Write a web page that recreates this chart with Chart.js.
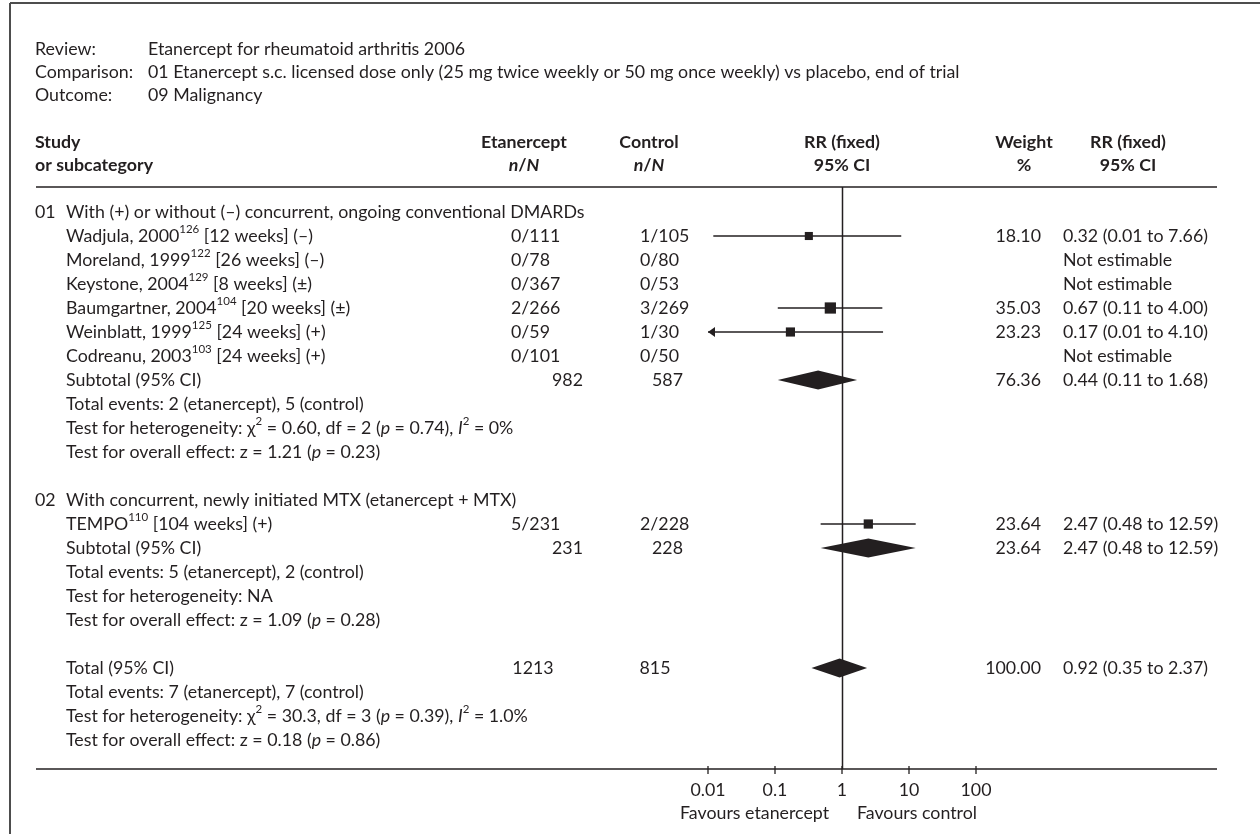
<!DOCTYPE html>
<html>
<head>
<meta charset="utf-8">
<script src="https://cdn.jsdelivr.net/npm/chart.js@4.4.1/dist/chart.umd.min.js"></script>
<style>
  html, body { margin: 0; padding: 0; background: #fff; }
  canvas { display: block; }
</style>
</head>
<body>
<canvas id="forestChart" width="1260" height="834"></canvas>
<script>
// --- data ---
var studyNames = ['Wadjula, 2000', 'Moreland, 1999', 'Keystone, 2004', 'Baumgartner, 2004', 'Weinblatt, 1999', 'Codreanu, 2003', 'TEMPO'];
var studyRefs = ['126', '122', '129', '104', '125', '103', '110'];
var studyNotes = [' [12 weeks] (\u2013)', ' [26 weeks] (\u2013)', ' [8 weeks] (\u00b1)', ' [20 weeks] (\u00b1)', ' [24 weeks] (+)', ' [24 weeks] (+)', ' [104 weeks] (+)'];
var studyGroup = [0, 0, 0, 0, 0, 0, 1];
var etanerceptNN = ['0/111', '0/78', '0/367', '2/266', '0/59', '0/101', '5/231'];
var controlNN = ['1/105', '0/80', '0/53', '3/269', '1/30', '0/50', '2/228'];
var studyWeight = [18.10, null, null, 35.03, 23.23, null, 23.64];
var studyRR = [0.32, null, null, 0.67, 0.17, null, 2.47];
var studyLow = [0.012, null, null, 0.11, 0.007, null, 0.48];
var studyHigh = [7.66, null, null, 4.00, 4.10, null, 12.59];

var groupCodes = ['01', '02'];
var groupTitles = ['With (+) or without (\u2013) concurrent, ongoing conventional DMARDs', 'With concurrent, newly initiated MTX (etanercept + MTX)'];
var subEtanercept = [982, 231];
var subControl = [587, 228];
var subWeight = [76.36, 23.64];
var subRR = [0.44, 2.47];
var subLow = [0.11, 0.48];
var subHigh = [1.68, 12.59];
var subEventsEtan = [2, 5];
var subEventsCtrl = [5, 2];
var subChi = ['0.60', null];
var subDf = [2, null];
var subHetP = ['0.74', null];
var subI2 = ['0%', null];
var subZ = ['1.21', '1.09'];
var subZp = ['0.23', '0.28'];

var totalEtanercept = 1213;
var totalControl = 815;
var totalWeight = 100.00;
var totalRR = 0.92, totalLow = 0.35, totalHigh = 2.37;
var totalEventsEtan = 7, totalEventsCtrl = 7;
var totalChi = '30.3', totalDf = 3, totalHetP = '0.39', totalI2 = '1.0%';
var totalZ = '0.18', totalZp = '0.86';

var xTicks = [0.01, 0.1, 1, 10, 100];
var xTickLabels = ['0.01', '0.1', '1', '10', '100'];

// --- layout ---
var INK = '#231f20';
var FONT = 'Lato, "Noto Sans", sans-serif';
var SIZE = 17.8;
var HEAD_RULE = 187;

// build the row list (row units, one unit per text line)
var rows = [];
var r = 0;
groupCodes.forEach(function (code, g) {
  rows.push({ r: r++, type: 'group', g: g });
  studyNames.forEach(function (n, i) {
    if (studyGroup[i] === g) rows.push({ r: r++, type: 'study', i: i });
  });
  rows.push({ r: r++, type: 'subtotal', g: g });
  rows.push({ r: r++, type: 'events', a: subEventsEtan[g], b: subEventsCtrl[g] });
  rows.push({ r: r++, type: 'het', chi: subChi[g], df: subDf[g], p: subHetP[g], i2: subI2[g] });
  rows.push({ r: r++, type: 'overall', z: subZ[g], p: subZp[g] });
  r++;
});
rows.push({ r: r++, type: 'total' });
rows.push({ r: r++, type: 'events', a: totalEventsEtan, b: totalEventsCtrl });
rows.push({ r: r++, type: 'het', chi: totalChi, df: totalDf, p: totalHetP, i2: totalI2 });
rows.push({ r: r++, type: 'overall', z: totalZ, p: totalZp });

function rowOf(type, key, val) {
  return rows.find(function (o) { return o.type === type && o[key] === val; }).r;
}

function fontFor(style) {
  if (style === 'b') return 'bold ' + SIZE + 'px ' + FONT;
  if (style === 'bi') return 'italic bold ' + SIZE + 'px ' + FONT;
  if (style === 'i') return 'italic ' + SIZE + 'px ' + FONT;
  if (style === 'sup') return '11.5px ' + FONT;
  return SIZE + 'px ' + FONT;
}

// segs: [[text, style], ...]
function drawRich(ctx, segs, x, y, align) {
  var w = 0;
  segs.forEach(function (s) { ctx.font = fontFor(s[1]); w += ctx.measureText(s[0]).width; });
  var cx = align === 'right' ? x - w : align === 'center' ? x - w / 2 : x;
  ctx.textAlign = 'left';
  ctx.textBaseline = 'middle';
  segs.forEach(function (s) {
    ctx.font = fontFor(s[1]);
    ctx.fillText(s[0], cx, s[1] === 'sup' ? y - 7 : y);
    cx += ctx.measureText(s[0]).width;
  });
}

function text(ctx, t, x, y, align, style) {
  drawRich(ctx, [[t, style || '']], x, y, align);
}

function line(ctx, x1, y1, x2, y2) {
  ctx.beginPath();
  ctx.moveTo(x1, y1);
  ctx.lineTo(x2, y2);
  ctx.stroke();
}

function ciText(v, lo, hi) {
  return v.toFixed(2) + ' (' + lo.toFixed(2) + ' to ' + hi.toFixed(2) + ')';
}

var forestPlugin = {
  id: 'forest',
  beforeDatasetsDraw: function (chart) {
    var ctx = chart.ctx, x = chart.scales.x, y = chart.scales.y;
    var area = chart.chartArea;
    ctx.save();
    ctx.strokeStyle = INK;
    ctx.fillStyle = INK;

    // line of no effect
    ctx.lineWidth = 1.5;
    var x1v = Math.round(x.getPixelForValue(1)) + 0.5;
    line(ctx, x1v, HEAD_RULE, x1v, area.bottom);

    // confidence intervals
    ctx.lineWidth = 1.3;
    studyRR.forEach(function (v, i) {
      if (v === null) return;
      var py = y.getPixelForValue(rowOf('study', 'i', i));
      var left = x.getPixelForValue(Math.max(studyLow[i], x.min));
      var right = x.getPixelForValue(Math.min(studyHigh[i], x.max));
      line(ctx, left, py, right, py);
      if (studyLow[i] < x.min) {
        ctx.beginPath();
        ctx.moveTo(left, py);
        ctx.lineTo(left + 7, py - 5);
        ctx.lineTo(left + 7, py + 5);
        ctx.closePath();
        ctx.fill();
      }
    });

    // pooled diamonds
    function diamond(v, lo, hi, row) {
      var py = y.getPixelForValue(row);
      ctx.beginPath();
      ctx.moveTo(x.getPixelForValue(lo), py);
      ctx.lineTo(x.getPixelForValue(v), py - 9.5);
      ctx.lineTo(x.getPixelForValue(hi), py);
      ctx.lineTo(x.getPixelForValue(v), py + 9.5);
      ctx.closePath();
      ctx.fill();
    }
    subRR.forEach(function (v, g) { diamond(v, subLow[g], subHigh[g], rowOf('subtotal', 'g', g)); });
    diamond(totalRR, totalLow, totalHigh, rowOf('total', 'type', 'total'));
    ctx.restore();
  },
  afterDraw: function (chart) {
    var ctx = chart.ctx, x = chart.scales.x, y = chart.scales.y;
    var area = chart.chartArea;
    ctx.save();
    ctx.fillStyle = INK;

    // frame
    ctx.strokeStyle = '#4d4d4d';
    ctx.lineWidth = 2;
    line(ctx, 10, 3, 1260, 3);
    line(ctx, 10, 3, 10, 834);

    // review info
    ctx.strokeStyle = INK;
    text(ctx, 'Review:', 35, 49);
    text(ctx, 'Etanercept for rheumatoid arthritis 2006', 148, 49);
    text(ctx, 'Comparison:', 35, 72);
    text(ctx, '01 Etanercept s.c. licensed dose only (25 mg twice weekly or 50 mg once weekly) vs placebo, end of trial', 148, 72);
    text(ctx, 'Outcome:', 35, 95);
    text(ctx, '09 Malignancy', 148, 95);

    // column headers
    var h1 = 142, h2 = 165;
    text(ctx, 'Study', 35, h1, 'left', 'b');
    text(ctx, 'or subcategory', 35, h2, 'left', 'b');
    text(ctx, 'Etanercept', 524, h1, 'center', 'b');
    drawRich(ctx, [['n', 'bi'], ['/', 'b'], ['N', 'bi']], 524, h2, 'center');
    text(ctx, 'Control', 649, h1, 'center', 'b');
    drawRich(ctx, [['n', 'bi'], ['/', 'b'], ['N', 'bi']], 649, h2, 'center');
    var xOne = x.getPixelForValue(1);
    text(ctx, 'RR (fixed)', xOne, h1, 'center', 'b');
    text(ctx, '95% CI', xOne, h2, 'center', 'b');
    text(ctx, 'Weight', 1024, h1, 'center', 'b');
    text(ctx, '%', 1024, h2, 'center', 'b');
    text(ctx, 'RR (fixed)', 1128, h1, 'center', 'b');
    text(ctx, '95% CI', 1128, h2, 'center', 'b');

    ctx.lineWidth = 1.5;
    line(ctx, 36, HEAD_RULE, 1217, HEAD_RULE);

    // body rows
    rows.forEach(function (o) {
      var py = y.getPixelForValue(o.r);
      if (o.type === 'group') {
        text(ctx, groupCodes[o.g], 35, py);
        text(ctx, groupTitles[o.g], 66, py);
      } else if (o.type === 'study') {
        var i = o.i;
        drawRich(ctx, [[studyNames[i]], [studyRefs[i], 'sup'], [studyNotes[i]]], 66, py, 'left');
        text(ctx, etanerceptNN[i], 511, py);
        text(ctx, controlNN[i], 640, py);
        if (studyRR[i] === null) {
          text(ctx, 'Not estimable', 1063, py);
        } else {
          text(ctx, studyWeight[i].toFixed(2), 1041, py, 'right');
          text(ctx, ciText(studyRR[i], studyLow[i], studyHigh[i]), 1063, py);
        }
      } else if (o.type === 'subtotal') {
        text(ctx, 'Subtotal (95% CI)', 66, py);
        text(ctx, String(subEtanercept[o.g]), 583, py, 'right');
        text(ctx, String(subControl[o.g]), 683, py, 'right');
        text(ctx, subWeight[o.g].toFixed(2), 1041, py, 'right');
        text(ctx, ciText(subRR[o.g], subLow[o.g], subHigh[o.g]), 1063, py);
      } else if (o.type === 'events') {
        text(ctx, 'Total events: ' + o.a + ' (etanercept), ' + o.b + ' (control)', 66, py);
      } else if (o.type === 'het') {
        if (o.chi === null) {
          text(ctx, 'Test for heterogeneity: NA', 66, py);
        } else {
          drawRich(ctx, [['Test for heterogeneity: \u03c7'], ['2', 'sup'], [' = ' + o.chi + ', df = ' + o.df + ' ('],
            ['p', 'i'], [' = ' + o.p + '), '], ['I', 'i'], ['2', 'sup'], [' = ' + o.i2]], 66, py, 'left');
        }
      } else if (o.type === 'overall') {
        drawRich(ctx, [['Test for overall effect: z = ' + o.z + ' ('], ['p', 'i'], [' = ' + o.p + ')']], 66, py, 'left');
      } else if (o.type === 'total') {
        text(ctx, 'Total (95% CI)', 66, py);
        text(ctx, String(totalEtanercept), 533, py, 'center');
        text(ctx, String(totalControl), 655, py, 'center');
        text(ctx, totalWeight.toFixed(2), 1041, py, 'right');
        text(ctx, ciText(totalRR, totalLow, totalHigh), 1063, py);
      }
    });

    // bottom axis
    var ay = area.bottom;
    ctx.lineWidth = 1.5;
    line(ctx, 36, ay, 1217, ay);
    ctx.lineWidth = 1.3;
    xTicks.forEach(function (t, k) {
      var px = x.getPixelForValue(t);
      line(ctx, px, ay - 3, px, ay + 5);
      text(ctx, xTickLabels[k], px, ay + 21, 'center');
    });
    text(ctx, 'Favours etanercept', xOne - 13, ay + 44, 'right');
    text(ctx, 'Favours control', xOne + 15, ay + 44, 'left');
    ctx.restore();
  }
};

var squares = [];
var squareRadius = [];
studyRR.forEach(function (v, i) {
  if (v === null) return;
  squares.push({ x: v, y: rowOf('study', 'i', i) });
  // square side grows with the square root of the weight
  squareRadius.push(1.9 * Math.sqrt(studyWeight[i]) / Math.SQRT2);
});

var ctx = document.getElementById('forestChart').getContext('2d');
var forestChart = new Chart(ctx, {
  type: 'scatter',
  data: {
    datasets: [{
      label: 'RR',
      data: squares,
      pointStyle: 'rect',
      pointRadius: squareRadius,
      backgroundColor: INK,
      borderColor: INK,
      borderWidth: 0
    }]
  },
  options: {
    responsive: false,
    animation: false,
    events: [],
    layout: { padding: { left: 708, right: 284, top: 187, bottom: 65 } },
    scales: {
      x: { type: 'logarithmic', min: 0.01, max: 100, display: false },
      // one unit per text row (24 px); row 0 sits 25 px below the header rule
      y: { type: 'linear', min: -25 / 24, max: 557 / 24, reverse: true, display: false }
    },
    plugins: {
      legend: { display: false },
      tooltip: { enabled: false }
    }
  },
  plugins: [forestPlugin]
});
</script>
</body>
</html>
